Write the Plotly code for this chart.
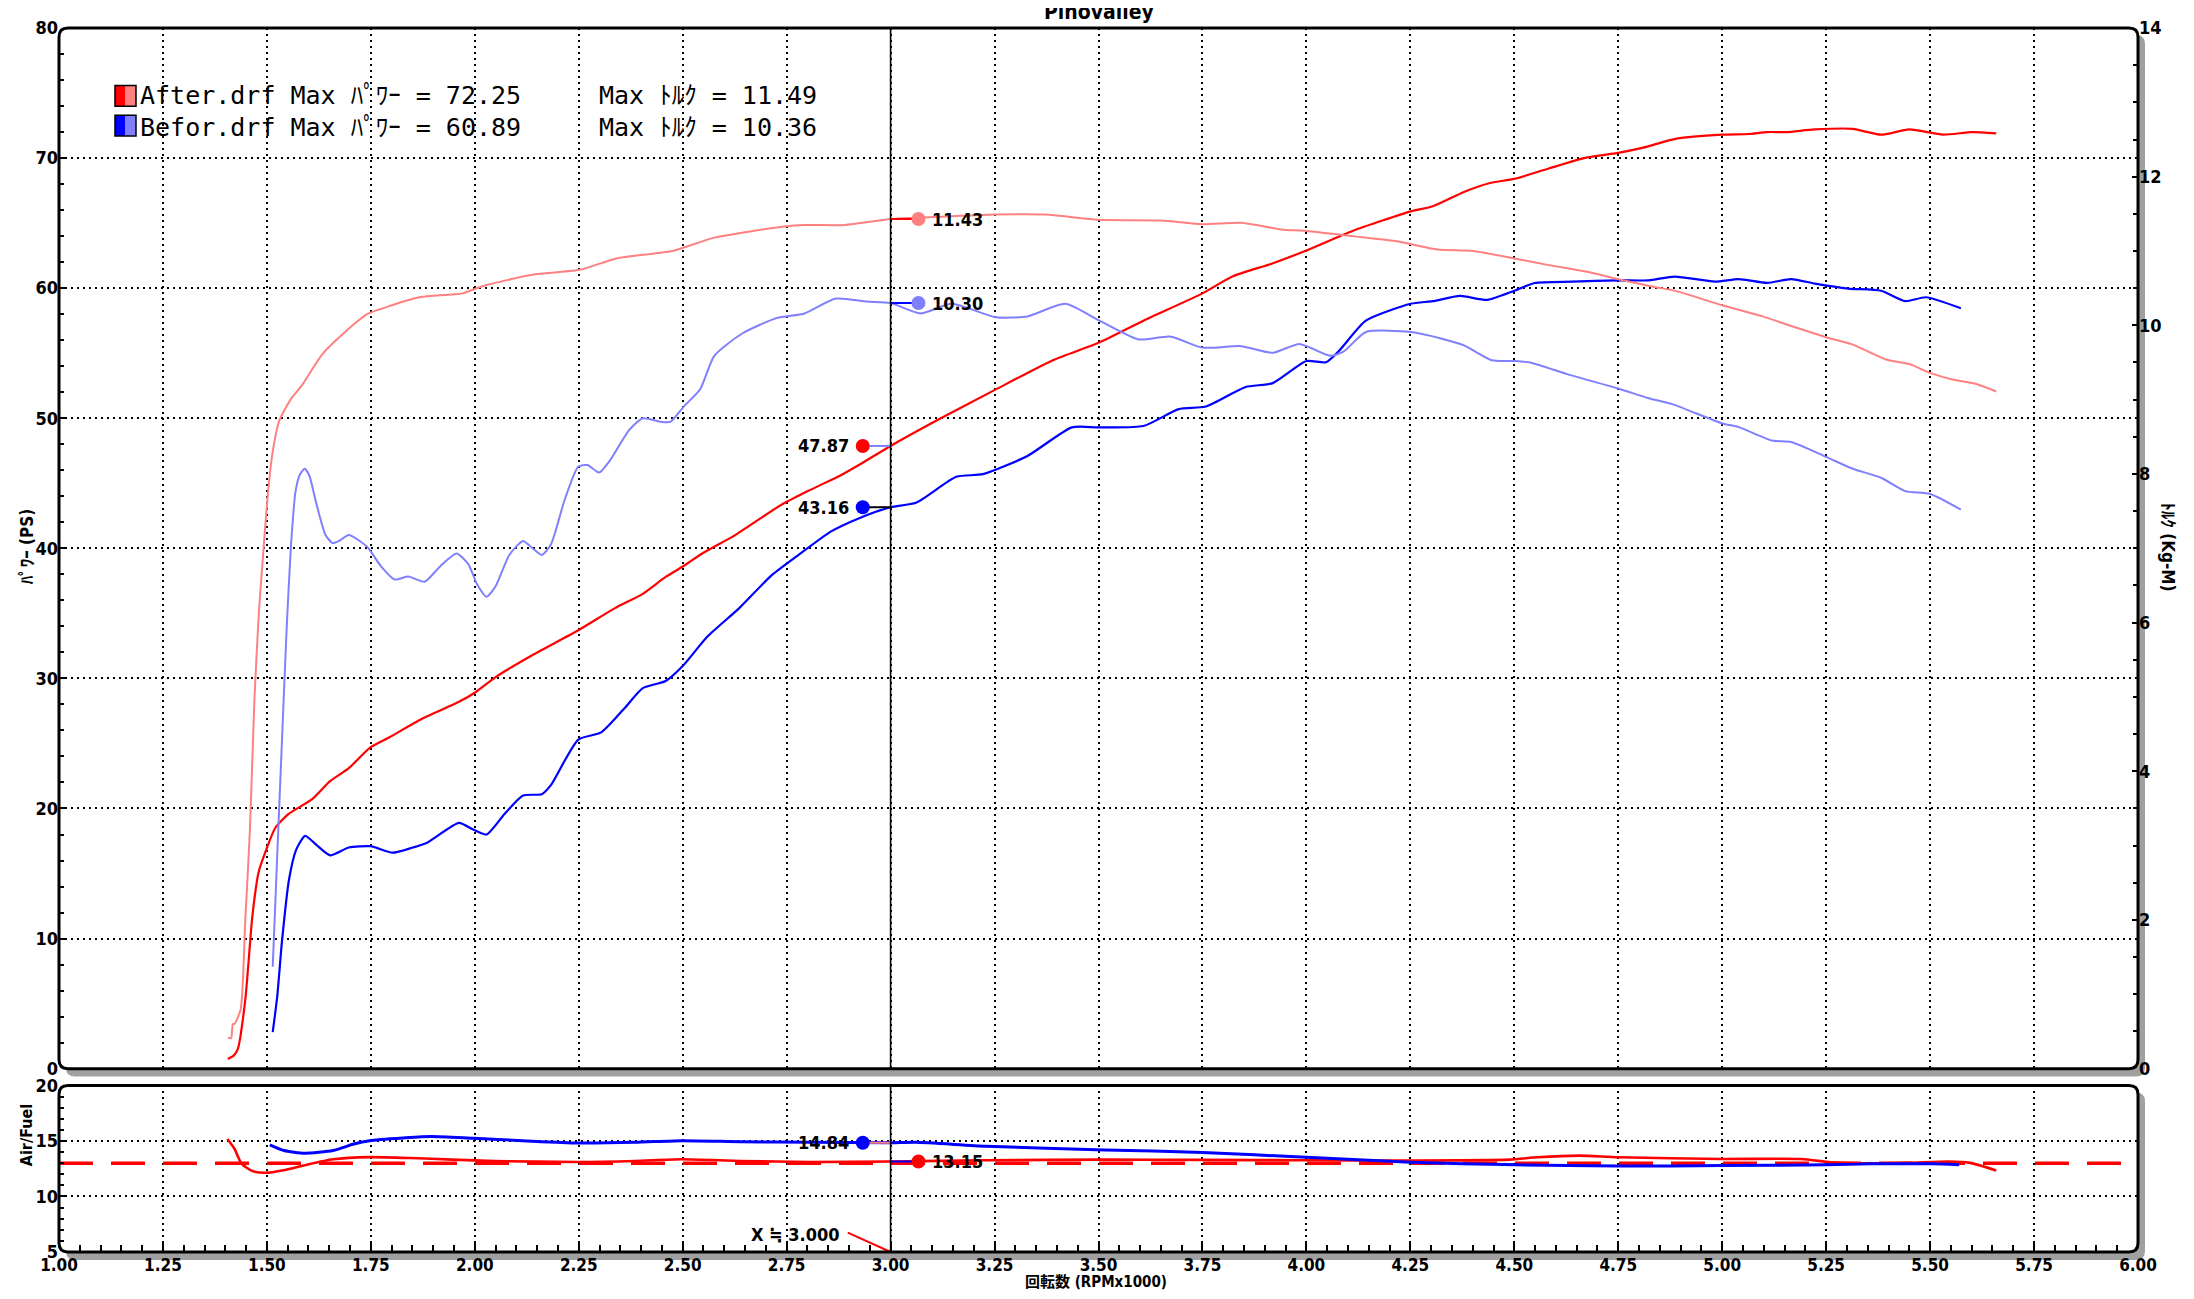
import plotly.graph_objects as go

# ---------------- data ----------------
rpm_after_pwr = [1.406, 1.42, 1.43, 1.448, 1.465, 1.48, 1.498, 1.52, 1.553, 1.608, 1.652, 1.697,
                 1.749, 1.796, 1.873, 1.962, 2.0, 2.05, 2.139, 2.249, 2.337, 2.404, 2.459, 2.5,
                 2.547, 2.625, 2.735, 2.801, 2.879, 2.934, 3.0, 3.115, 3.252, 3.393, 3.5, 3.608,
                 3.75, 3.822, 3.918, 4.0, 4.111, 4.251, 4.304, 4.379, 4.444, 4.5, 4.583, 4.675,
                 4.75, 4.81, 4.89, 5.0, 5.063, 5.108, 5.154, 5.222, 5.314, 5.382, 5.45, 5.531,
                 5.6, 5.659]
after_power = [0.75, 1.0, 1.5, 5.3, 11.7, 15.1, 16.8, 18.5, 19.6, 20.7, 22.1, 23.1,
               24.7, 25.5, 26.9, 28.2, 28.9, 30.1, 31.8, 33.7, 35.4, 36.5, 37.8, 38.6,
               39.6, 41.0, 43.3, 44.4, 45.6, 46.6, 47.87, 49.9, 52.2, 54.5, 55.8, 57.5,
               59.6, 60.9, 61.9, 62.9, 64.4, 65.9, 66.3, 67.4, 68.1, 68.4, 69.2, 70.05,
               70.4, 70.8, 71.5, 71.8, 71.85, 72.0, 72.0, 72.2, 72.25, 71.8, 72.2, 71.8,
               72.0, 71.9]

rpm_after_trq = [1.406, 1.414, 1.418, 1.422, 1.437, 1.448, 1.459, 1.47, 1.481, 1.492, 1.503,
                 1.514, 1.53, 1.558, 1.585, 1.633, 1.684, 1.741, 1.801, 1.869, 1.97, 2.02,
                 2.138, 2.256, 2.34, 2.475, 2.576, 2.744, 2.793, 2.89, 3.0, 3.115, 3.252,
                 3.372, 3.5, 3.65, 3.75, 3.843, 3.94, 4.0, 4.111, 4.218, 4.315, 4.401,
                 4.5, 4.583, 4.675, 4.75, 4.834, 4.89, 5.0, 5.097, 5.166, 5.25, 5.314,
                 5.394, 5.45, 5.5, 5.554, 5.611, 5.659]
after_torque = [0.42, 0.41, 0.6, 0.6, 0.8, 2.0, 3.19, 4.97, 6.16, 7.0, 7.77,
                8.3, 8.72, 9.01, 9.2, 9.61, 9.89, 10.15, 10.27, 10.38, 10.43, 10.53,
                10.68, 10.75, 10.9, 11.0, 11.18, 11.33, 11.35, 11.35, 11.43, 11.46, 11.49,
                11.49, 11.42, 11.41, 11.36, 11.38, 11.29, 11.27, 11.2, 11.13, 11.02, 11.0,
                10.9, 10.81, 10.72, 10.62, 10.52, 10.46, 10.27, 10.12, 9.99, 9.84, 9.74,
                9.54, 9.48, 9.36, 9.27, 9.21, 9.11]

rpm_before_pwr = [1.514, 1.525, 1.536, 1.553, 1.57, 1.592, 1.619, 1.652, 1.697, 1.749, 1.802,
                  1.851, 1.884, 1.962, 1.995, 2.028, 2.072, 2.116, 2.161, 2.183, 2.249, 2.304,
                  2.36, 2.404, 2.459, 2.5, 2.559, 2.636, 2.713, 2.779, 2.857, 2.923, 3.0,
                  3.061, 3.158, 3.222, 3.329, 3.436, 3.5, 3.608, 3.693, 3.758, 3.854, 3.919,
                  4.0, 4.047, 4.079, 4.143, 4.251, 4.304, 4.369, 4.435, 4.5, 4.549, 4.64,
                  4.75, 4.823, 4.886, 4.983, 5.04, 5.108, 5.166, 5.223, 5.303, 5.382, 5.44,
                  5.49, 5.574]
before_power = [2.8, 5.6, 9.7, 14.5, 16.8, 17.9, 17.2, 16.4, 17.0, 17.1, 16.6,
                17.0, 17.35, 18.9, 18.4, 18.0, 19.6, 21.0, 21.1, 21.8, 25.3, 25.85,
                27.7, 29.25, 29.8, 30.95, 33.2, 35.4, 37.9, 39.5, 41.3, 42.3, 43.16,
                43.5, 45.5, 45.7, 47.1, 49.3, 49.3, 49.4, 50.7, 50.9, 52.4, 52.7,
                54.4, 54.3, 55.2, 57.5, 58.8, 59.0, 59.4, 59.1, 59.8, 60.4, 60.5,
                60.6, 60.6, 60.89, 60.5, 60.7, 60.4, 60.7, 60.35, 59.97, 59.8, 59.0,
                59.3, 58.45]

rpm_before_trq = [1.514, 1.525, 1.536, 1.547, 1.558, 1.569, 1.58, 1.591, 1.602, 1.619, 1.641,
                  1.658, 1.674, 1.697, 1.741, 1.774, 1.807, 1.84, 1.879, 1.917, 1.956, 1.984,
                  2.006, 2.028, 2.05, 2.083, 2.116, 2.139, 2.161, 2.183, 2.216, 2.249, 2.271,
                  2.299, 2.326, 2.371, 2.404, 2.448, 2.47, 2.503, 2.542, 2.576, 2.643, 2.727,
                  2.793, 2.868, 2.943, 3.0, 3.072, 3.147, 3.252, 3.329, 3.42, 3.5, 3.597,
                  3.672, 3.75, 3.843, 3.919, 3.983, 4.058, 4.09, 4.143, 4.251, 4.326, 4.379,
                  4.446, 4.5, 4.538, 4.629, 4.75, 4.823, 4.88, 5.0, 5.04, 5.12, 5.166,
                  5.25, 5.314, 5.382, 5.44, 5.5, 5.574]
before_torque = [1.37, 2.89, 4.38, 5.86, 7.05, 7.77, 8.0, 8.07, 7.98, 7.6, 7.18,
                 7.07, 7.1, 7.18, 7.02, 6.76, 6.58, 6.62, 6.55, 6.76, 6.93, 6.79,
                 6.51, 6.35, 6.49, 6.91, 7.1, 7.0, 6.91, 7.05, 7.65, 8.1, 8.12,
                 8.02, 8.19, 8.59, 8.75, 8.7, 8.7, 8.91, 9.14, 9.59, 9.89, 10.1,
                 10.16, 10.36, 10.32, 10.30, 10.16, 10.29, 10.11, 10.12, 10.29, 10.07, 9.81,
                 9.85, 9.70, 9.72, 9.63, 9.75, 9.59, 9.65, 9.91, 9.91, 9.82, 9.73,
                 9.53, 9.52, 9.5, 9.34, 9.15, 9.02, 8.94, 8.68, 8.63, 8.45, 8.43,
                 8.23, 8.07, 7.95, 7.77, 7.73, 7.52]

rpm_after_af = [1.405, 1.422, 1.439, 1.465, 1.498, 1.54, 1.591, 1.659, 1.747, 1.845, 1.946,
                2.047, 2.247, 2.385, 2.497, 2.639, 2.807, 3.0, 3.23, 3.515, 3.75, 4.0,
                4.25, 4.488, 4.555, 4.656, 4.75, 5.0, 5.19, 5.26, 5.327, 5.445, 5.545,
                5.596, 5.659]
after_af = [15.18, 14.3, 12.96, 12.29, 12.14, 12.37, 12.82, 13.35, 13.55, 13.47, 13.32,
            13.2, 13.11, 13.2, 13.35, 13.2, 13.11, 13.15, 13.26, 13.32, 13.3, 13.26,
            13.24, 13.32, 13.53, 13.68, 13.53, 13.38, 13.38, 13.09, 13.0, 13.03, 13.15,
            13.03, 12.35]

rpm_before_af = [1.507, 1.541, 1.591, 1.659, 1.709, 1.747, 1.828, 1.895, 1.997, 2.115, 2.247,
                 2.385, 2.497, 2.639, 2.807, 3.0, 3.06, 3.23, 3.515, 3.75, 4.0, 4.25,
                 4.505, 4.75, 5.0, 5.25, 5.36, 5.503, 5.57]
before_af = [14.65, 14.14, 13.9, 14.14, 14.73, 15.03, 15.27, 15.41, 15.24, 15.03, 14.82,
             14.88, 15.03, 14.94, 14.88, 14.84, 14.88, 14.53, 14.2, 13.97, 13.53, 13.09,
             12.85, 12.74, 12.79, 12.85, 12.94, 12.94, 12.85]

target_af = 13.0
cursor_rpm = 3.0
cursor_after_power, cursor_before_power = 47.87, 43.16
cursor_after_torque, cursor_before_torque = 11.43, 10.30
cursor_before_af, cursor_after_af = 14.84, 13.15

legend_rows = [
    ("After.drf", "72.25", "11.49"),
    ("Befor.drf", "60.89", "10.36"),
]

x_ticks = [1.0 + 0.25 * i for i in range(21)]

# ---------------- styling / layout ----------------
# page has an 8px body margin; figure is sized to fit inside the window
W, H = 2178, 1283
ML, MR, MT, MB = 51, 48, 9, 39
PW = W - ML - MR
PH = H - MT - MB


def fx(px):  # page pixel -> paper x
    return (px - 8 - ML) / PW


def fy(py):  # page pixel -> paper y
    return (H - MB - (py - 8)) / PH


MAIN_T, MAIN_B = 17, 1067
AF_T, AF_B = 1084, 1252
PL, PR = 59, 2138

RED, PINK, BLUE, LBLUE = "#ff0000", "#ff8080", "#0000ff", "#8080ff"
FONT = "Liberation Sans Narrow, DejaVu Sans Condensed, Noto Sans CJK JP, sans-serif"
MONO = "DejaVu Sans Mono, Noto Sans CJK JP, monospace"

fig = go.Figure()

# power (left axis, main panel)
fig.add_trace(go.Scatter(x=rpm_after_pwr, y=after_power, xaxis="x2", yaxis="y", mode="lines",
                         line=dict(color=RED, width=2.2, shape="spline", smoothing=0.6)))
fig.add_trace(go.Scatter(x=rpm_before_pwr, y=before_power, xaxis="x2", yaxis="y", mode="lines",
                         line=dict(color=BLUE, width=2.2, shape="spline", smoothing=0.6)))
# torque (right axis, main panel)
fig.add_trace(go.Scatter(x=rpm_after_trq, y=after_torque, xaxis="x2", yaxis="y2", mode="lines",
                         line=dict(color=PINK, width=2, shape="spline", smoothing=0.6)))
fig.add_trace(go.Scatter(x=rpm_before_trq, y=before_torque, xaxis="x2", yaxis="y2", mode="lines",
                         line=dict(color=LBLUE, width=2, shape="spline", smoothing=0.6)))
# air/fuel
fig.add_trace(go.Scatter(x=[1.0, 6.0], y=[target_af, target_af], xaxis="x", yaxis="y3", mode="lines",
                         line=dict(color=RED, width=3.5, dash="34px,18px")))
fig.add_trace(go.Scatter(x=rpm_after_af, y=after_af, xaxis="x", yaxis="y3", mode="lines",
                         line=dict(color=RED, width=2.6, shape="spline", smoothing=0.6)))
fig.add_trace(go.Scatter(x=rpm_before_af, y=before_af, xaxis="x", yaxis="y3", mode="lines",
                         line=dict(color=BLUE, width=3, shape="spline", smoothing=0.6)))

# cursor markers + connectors
LX, RX = cursor_rpm - 0.067, cursor_rpm + 0.067
markers = [
    (LX, cursor_after_power, "x2", "y", RED, LBLUE, "left"),
    (LX, cursor_before_power, "x2", "y", BLUE, "#000000", "left"),
    (RX, cursor_after_torque, "x2", "y2", PINK, RED, "right"),
    (RX, cursor_before_torque, "x2", "y2", LBLUE, BLUE, "right"),
    (LX, cursor_before_af, "x", "y3", BLUE, PINK, "left"),
    (RX, cursor_after_af, "x", "y3", RED, BLUE, "right"),
]
annotations = []
for mx, val, xa, ya, mc, cc, side in markers:
    fig.add_trace(go.Scatter(x=[mx, cursor_rpm], y=[val, val], xaxis=xa, yaxis=ya, mode="lines",
                             line=dict(color=cc, width=2)))
    fig.add_trace(go.Scatter(x=[mx], y=[val], xaxis=xa, yaxis=ya, mode="markers",
                             marker=dict(color=mc, size=14)))
    annotations.append(dict(
        x=mx, y=val, xref=xa, yref=ya, text=f"{val:.2f}", showarrow=False,
        xanchor="right" if side == "left" else "left", xshift=-12 if side == "left" else 12,
        font=dict(family=FONT, size=18, color="black", weight="bold")))

# "X ≒ 3.000" cursor label with its red leader
fig.add_trace(go.Scatter(x=[cursor_rpm - 0.103, cursor_rpm], y=[6.75, 5.0], xaxis="x", yaxis="y3",
                         mode="lines", line=dict(color=RED, width=2)))
annotations.append(dict(x=cursor_rpm - 0.118, y=6.6, xref="x", yref="y3", text=f"X ≒ {cursor_rpm:.3f}",
                        showarrow=False, xanchor="right",
                        font=dict(family=FONT, size=18, color="black", weight="bold")))

# legend (text + swatches)
for i, (name, pw, tq) in enumerate(legend_rows):
    yc = 85 + 32 * i
    annotations.append(dict(x=fx(138), y=fy(yc), xref="paper", yref="paper", xanchor="left",
                            yanchor="middle", showarrow=False,
                            text=f"{name} Max ﾊﾟﾜｰ = {pw}",
                            font=dict(family=MONO, size=25, color="black")))
    annotations.append(dict(x=fx(597), y=fy(yc), xref="paper", yref="paper", xanchor="left",
                            yanchor="middle", showarrow=False,
                            text=f"Max ﾄﾙｸ = {tq}",
                            font=dict(family=MONO, size=25, color="black")))

# axis titles etc.
annotations += [
    dict(x=fx(15), y=fy(540), xref="paper", yref="paper", text="ﾊﾟﾜｰ (PS)", textangle=-90,
         showarrow=False, font=dict(family=FONT, size=17, color="black", weight="bold")),
    dict(x=fx(2180), y=fy(540), xref="paper", yref="paper", text="ﾄﾙｸ (Kg-M)", textangle=90,
         showarrow=False, font=dict(family=FONT, size=17, color="black", weight="bold")),
    dict(x=fx(15), y=fy(1168), xref="paper", yref="paper", text="Air/Fuel", textangle=-90,
         showarrow=False, font=dict(family=FONT, size=16, color="black", weight="bold")),
    dict(x=fx(1096), y=fy(1282), xref="paper", yref="paper", text="回転数 (RPMx1000)",
         yanchor="middle", showarrow=False, font=dict(family=FONT, size=15, color="black", weight="bold")),
    dict(x=fx(1099), y=fy(1), xref="paper", yref="paper", text="Pinovalley", yanchor="middle",
         showarrow=False, font=dict(family=FONT, size=21, color="black", weight="bold")),
]


def rounded_path(x0, y0, x1, y1, r=9):
    """page-pixel box -> paper path with rounded corners"""
    X0, X1 = fx(x0), fx(x1)
    Y0, Y1 = fy(y0), fy(y1)
    rx, ry = r / PW, r / PH
    return (f"M {X0+rx},{Y0} L {X1-rx},{Y0} Q {X1},{Y0} {X1},{Y0-ry} "
            f"L {X1},{Y1+ry} Q {X1},{Y1} {X1-rx},{Y1} L {X0+rx},{Y1} "
            f"Q {X0},{Y1} {X0},{Y1+ry} L {X0},{Y0-ry} Q {X0},{Y0} {X0+rx},{Y0} Z")


shapes = []
for (t, b) in [(MAIN_T, MAIN_B), (AF_T, AF_B)]:
    shapes.append(dict(type="path", path=rounded_path(PL + 7, t + 7, PR + 7, b + 8), xref="paper",
                       yref="paper", fillcolor="#a0a0a0", line=dict(width=0), layer="below"))
    shapes.append(dict(type="path", path=rounded_path(PL, t, PR, b), xref="paper", yref="paper",
                       fillcolor="white", line=dict(width=0), layer="below"))
for (t, b) in [(MAIN_T, MAIN_B), (AF_T, AF_B)]:
    shapes.append(dict(type="path", path=rounded_path(PL, t, PR, b), xref="paper", yref="paper",
                       fillcolor="rgba(0,0,0,0)", line=dict(color="black", width=3), layer="above"))
shapes.append(dict(type="line", x0=cursor_rpm, x1=cursor_rpm, xref="x2", y0=0, y1=1, yref="y domain",
                   line=dict(color="black", width=1.6)))
shapes.append(dict(type="line", x0=cursor_rpm, x1=cursor_rpm, xref="x", y0=0, y1=1, yref="y3 domain",
                   line=dict(color="black", width=1.6)))
for i, (dark, light) in enumerate([(RED, PINK), (BLUE, LBLUE)]):
    t, b = 75 + 30 * i, 96 + 30 * i
    shapes.append(dict(type="rect", xref="paper", yref="paper", x0=fx(115), x1=fx(125), y0=fy(b), y1=fy(t),
                       fillcolor=dark, line=dict(width=0)))
    shapes.append(dict(type="rect", xref="paper", yref="paper", x0=fx(125), x1=fx(136), y0=fy(b), y1=fy(t),
                       fillcolor=light, line=dict(width=0)))
    shapes.append(dict(type="rect", xref="paper", yref="paper", x0=fx(115), x1=fx(136), y0=fy(b), y1=fy(t),
                       fillcolor="rgba(0,0,0,0)", line=dict(color="black", width=1.5)))

tickfont = dict(family=FONT, size=18, color="black", weight="bold")
xtickfont = dict(family=FONT, size=17, color="black", weight="bold")
grid = dict(showgrid=True, gridcolor="black", gridwidth=1.5, griddash="2px,4px")

main_dom = [fy(MAIN_B), 1.0]
af_dom = [0.0, fy(AF_T)]

fig.update_layout(
    width=W, height=H, margin=dict(l=ML, r=MR, t=MT, b=MB),
    paper_bgcolor="white", plot_bgcolor="rgba(0,0,0,0)", showlegend=False,
    xaxis=dict(domain=[0, 1], anchor="y3", range=[1, 6], tickvals=x_ticks,
               ticktext=[f"{v:.2f}" for v in x_ticks], ticks="inside", ticklen=9, tickwidth=2,
               tickcolor="black", ticklabelstandoff=1,
               minor=dict(dtick=0.05, ticks="inside", ticklen=7, tickwidth=1.5,
                          tickcolor="black", showgrid=False),
               showline=False, zeroline=False, tickfont=xtickfont, **grid),
    xaxis2=dict(domain=[0, 1], anchor="y", matches="x", range=[1, 6], tickvals=x_ticks,
                showticklabels=False, ticks="", showline=False, zeroline=False, **grid),
    yaxis=dict(domain=main_dom, anchor="x2", range=[0, 80], tickvals=list(range(0, 81, 10)),
               ticks="inside", ticklen=6, tickwidth=2, tickcolor="black",
               minor=dict(dtick=2, ticks="inside", ticklen=5, tickwidth=1.5, tickcolor="black", showgrid=False),
               showline=False, zeroline=False, tickfont=tickfont, **grid),
    yaxis2=dict(overlaying="y", side="right", anchor="x2", range=[0, 14], tickvals=list(range(0, 15, 2)),
                ticks="inside", ticklen=6, tickwidth=2, tickcolor="black",
                minor=dict(dtick=0.5, ticks="inside", ticklen=5, tickwidth=1.5, tickcolor="black", showgrid=False),
                showgrid=False, showline=False, zeroline=False, tickfont=tickfont),
    yaxis3=dict(domain=af_dom, anchor="x", range=[5, 20], tickvals=[5, 10, 15, 20],
                ticks="inside", ticklen=6, tickwidth=2, tickcolor="black",
                minor=dict(dtick=1, ticks="inside", ticklen=5, tickwidth=1.5, tickcolor="black", showgrid=False),
                showline=False, zeroline=False, tickfont=tickfont, **grid),
    shapes=shapes, annotations=annotations,
)

fig.write_html("out.html")
